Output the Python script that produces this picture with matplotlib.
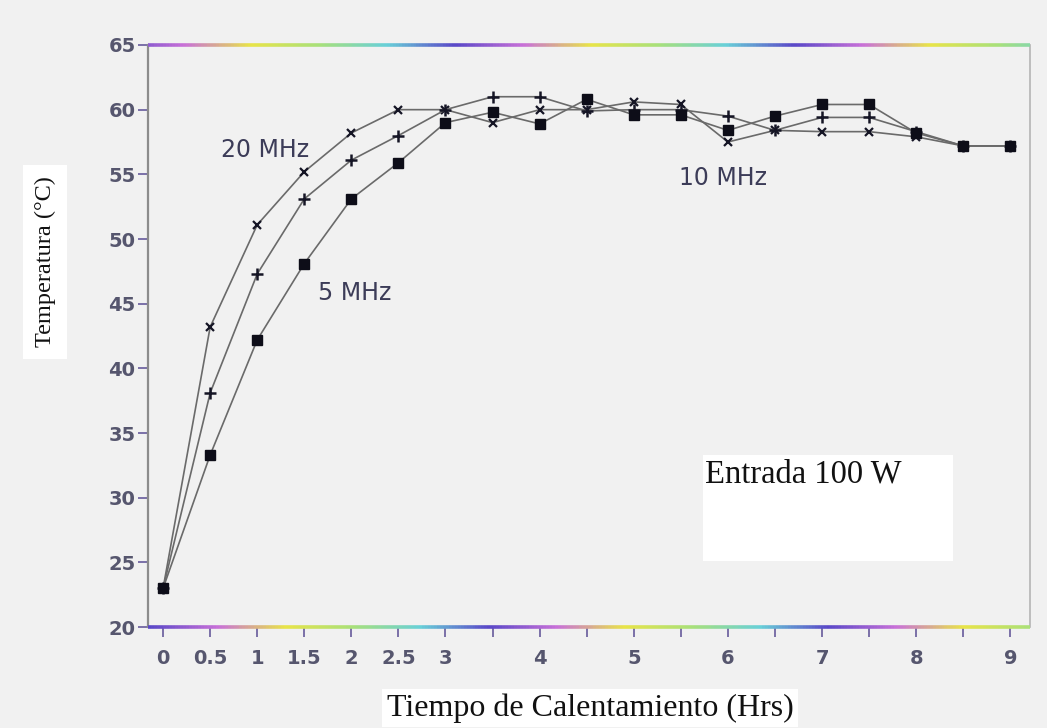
import numpy as np
import matplotlib.pyplot as plt
from matplotlib.collections import LineCollection
from matplotlib.colors import LinearSegmentedColormap
from matplotlib.patches import Rectangle

# heating time (hours) and temperature (deg C)
hours = [0, 0.5, 1, 1.5, 2, 2.5, 3, 3.5, 4, 4.5, 5, 5.5, 6, 6.5, 7, 7.5, 8, 8.5, 9]
temp_20mhz = [23.0, 43.2, 51.1, 55.2, 58.2, 60.0, 60.0, 59.0, 60.0, 60.0, 60.6, 60.4,
              57.5, 58.4, 58.3, 58.3, 57.9, 57.2, 57.2]
temp_10mhz = [23.0, 38.1, 47.3, 53.1, 56.1, 58.0, 60.0, 61.0, 61.0, 59.9, 60.0, 60.0,
              59.5, 58.4, 59.4, 59.4, 58.3, 57.2, 57.2]
temp_5mhz = [23.0, 33.3, 42.2, 48.1, 53.1, 55.9, 59.0, 59.8, 58.9, 60.8, 59.6, 59.6,
             58.4, 59.5, 60.4, 60.4, 58.2, 57.2, 57.2]

x_tick_labels = ["0", "0.5", "1", "1.5", "2", "2.5", "3", "", "4", "", "5", "",
                 "6", "", "7", "", "8", "", "9"]
y_ticks = [20, 25, 30, 35, 40, 45, 50, 55, 60, 65]

BG = "#f1f1f1"
TICK_COLOR = "#56566e"
LINE_COLOR = "#6a6a6a"

fig = plt.figure(figsize=(10.47, 7.28), dpi=100, facecolor=BG)
ax = fig.add_axes([0.1414, 0.1387, 0.8424, 0.7995], facecolor=BG)

# the three curves: thin gray lines with dark markers
ax.plot(hours, temp_20mhz, color=LINE_COLOR, lw=1.2, marker="x", ms=6, mew=1.6,
        mec="#151525", zorder=3)
ax.plot(hours, temp_10mhz, color=LINE_COLOR, lw=1.2, marker="+", ms=9, mew=1.8,
        mec="#151525", zorder=3)
ax.plot(hours, temp_5mhz, color=LINE_COLOR, lw=1.2, marker="s", ms=7,
        mfc="#0d0d18", mec="#0d0d18", zorder=4)

ax.set_xlim(-0.16, 9.21)
ax.set_ylim(20, 65)
ax.set_xticks(hours)
ax.set_xticklabels(x_tick_labels)
ax.set_yticks(y_ticks)

ax.tick_params(axis="both", direction="out", length=7, width=1.4, color="#7a70a8",
               labelcolor=TICK_COLOR, labelsize=14)
ax.tick_params(axis="x", pad=9)
ax.tick_params(axis="y", pad=2)
for lab in ax.get_xticklabels() + ax.get_yticklabels():
    lab.set_fontfamily("DejaVu Sans")
    lab.set_fontweight("bold")

ax.spines["left"].set_color("#8c8c8c")
ax.spines["left"].set_linewidth(1.6)
ax.spines["right"].set_color("#b4b4b4")
ax.spines["right"].set_linewidth(1.2)
ax.spines["top"].set_visible(False)
ax.spines["bottom"].set_visible(False)

# scanner colour fringing on the top and bottom frame lines
fringe = LinearSegmentedColormap.from_list(
    "fringe", ["#5a48c8", "#c870d8", "#e8e448", "#a8e07a", "#68d0d8", "#5a48c8"])
xs = np.linspace(0, 1, 300)
for yy in (0, 1):
    segs = [[(xs[i], yy), (xs[i + 1], yy)] for i in range(len(xs) - 1)]
    cols = fringe((xs[:-1] * 2.6 + 0.1 * yy) % 1)
    lc = LineCollection(segs, colors=cols, linewidths=2.6, transform=ax.transAxes,
                        clip_on=False, zorder=5)
    ax.add_collection(lc)

# curve labels
ann = dict(fontsize=17, color="#3c3c58", ha="center", va="center", family="DejaVu Sans")
ax.text(1.08, 56.9, "20 MHz", **ann)
ax.text(2.03, 45.8, "5 MHz", **ann)
ax.text(5.95, 54.7, "10 MHz", **ann)

# white box with the power note
fig.patches.append(Rectangle((703 / 1047, 1 - 561 / 728), 250 / 1047, 106 / 728,
                             transform=fig.transFigure, facecolor="white",
                             edgecolor="none", zorder=6))
fig.text(705 / 1047, 1 - 459 / 728, "Entrada 100 W", family="Liberation Serif",
         fontsize=23.5, color="#111111", ha="left", va="top", zorder=7)

# axis titles on white boxes
fig.text(45 / 1047, 1 - 262 / 728, "Temperatura (°C)", family="Liberation Serif",
         fontsize=17.5, rotation=90, ha="center", va="center", color="#111111",
         bbox=dict(facecolor="white", edgecolor="none", pad=8))
fig.text(590 / 1047, 1 - 708 / 728, "Tiempo de Calentamiento (Hrs)",
         family="Liberation Serif", fontsize=23, ha="center", va="center",
         color="#111111", bbox=dict(facecolor="white", edgecolor="none", pad=3))

fig.savefig("out.png", dpi=100, facecolor=BG)
